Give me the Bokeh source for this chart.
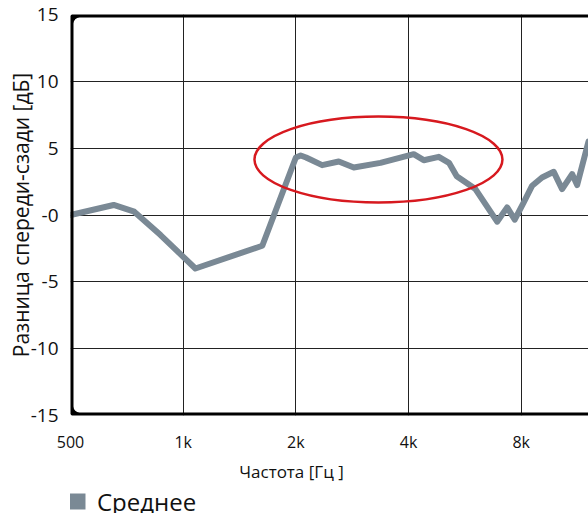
from bokeh.plotting import figure
from bokeh.layouts import column
from bokeh.models import (FixedTicker, Legend, LegendItem, BoxAnnotation, Range1d, Label)
from bokeh.embed import file_html
from bokeh.resources import INLINE

# ---- data ----
freq_hz = [500, 652, 740, 870, 1078, 1627, 2000, 2060, 2130, 2351, 2604, 2856,
           3364, 4129, 4392, 4817, 5130, 5380, 6036, 6898, 7336, 7687, 8124,
           8556, 9093, 9770, 10287, 10940, 11284, 12100]
diff_db = [0.0, 0.75, 0.25, -1.5, -4.0, -2.3, 4.3, 4.45, 4.3, 3.73, 4.0, 3.55,
           3.9, 4.55, 4.1, 4.35, 3.9, 2.9, 1.94, -0.5, 0.57, -0.35, 0.95,
           2.19, 2.81, 3.23, 1.94, 3.06, 2.24, 5.5]
series_name = "Среднее"

x_ticks = [500, 1000, 2000, 4000, 8000]
x_tick_labels = ["500", "1k", "2k", "4k", "8k"]
y_ticks = [-15, -10, -5, 0, 5, 10, 15]
y_tick_labels = ["-15", "-10", "-5", "-0", "5", "10", "15"]
x_title = "Частота [Гц ]"
y_title = "Разница спереди-сзади [дБ]"

# highlighted region (centre, in data units)
highlight_freq = [3324]
highlight_db = [4.15]

FONT = "Open Sans"
LINE = "#7a8995"
RED = "#d7191f"
TXT = "#111111"
W = 588

x_range = Range1d(500, 12100)

# ---------------- main chart ----------------
p = figure(width=W, height=455, x_axis_type="log",
           x_range=x_range, y_range=Range1d(-15, 15),
           output_backend="svg", toolbar_location=None,
           min_border_left=70, min_border_right=0, min_border_top=14,
           min_border_bottom=38)
p.outline_line_color = None
p.background_fill_color = "white"
p.border_fill_color = "white"

p.xgrid.ticker = FixedTicker(ticks=x_ticks[1:])
p.ygrid.ticker = FixedTicker(ticks=y_ticks)
for g in (p.xgrid, p.ygrid):
    g.grid_line_color = "#222222"
    g.grid_line_width = 1
    g.grid_line_alpha = 1

p.xaxis.ticker = FixedTicker(ticks=x_ticks)
p.xaxis.major_label_overrides = {t: l for t, l in zip(x_ticks, x_tick_labels)}
p.yaxis.ticker = FixedTicker(ticks=y_ticks)
p.yaxis.major_label_overrides = {t: l for t, l in zip(y_ticks, y_tick_labels)}
for ax in (p.xaxis, p.yaxis):
    ax.axis_line_color = None
    ax.major_tick_line_color = None
    ax.minor_tick_line_color = None
    ax.major_tick_out = 0
    ax.major_tick_in = 0
    ax.minor_tick_out = 0
    ax.minor_tick_in = 0
    ax.major_label_text_font = FONT
    ax.major_label_text_color = TXT
p.xaxis.major_label_text_font_size = "16px"
p.xaxis.major_label_standoff = 15
p.yaxis.major_label_text_font_size = "19px"
p.yaxis.major_label_standoff = 12
p.yaxis.axis_label = y_title
p.yaxis.axis_label_text_font = FONT
p.yaxis.axis_label_text_font_size = "21px"
p.yaxis.axis_label_text_font_style = "normal"
p.yaxis.axis_label_text_color = TXT
p.yaxis.axis_label_standoff = -7

# data line
p.line(freq_hz, diff_db, line_color=LINE, line_width=6,
       line_join="round", line_cap="round")

# highlight ellipse
p.ellipse(x=highlight_freq, y=highlight_db, width=248, height=86,
          width_units="screen", height_units="screen",
          fill_alpha=0, line_color=RED, line_width=2.5)

# rounded frame (half of the stroke lies inside the plot area)
frame = BoxAnnotation(left=500, right=30000, bottom=-15, top=15,
                      fill_alpha=0, line_color="black", line_width=6,
                      line_alpha=1, border_radius=9)
p.add_layout(frame)

# ---------------- strip below: axis title + legend ----------------
q = figure(width=W, height=58, x_axis_type="log", x_range=x_range,
           y_range=Range1d(0, 58),
           output_backend="svg", toolbar_location=None,
           x_axis_location=None, y_axis_location=None,
           min_border_left=70, min_border_right=0, min_border_top=0,
           min_border_bottom=0)
q.outline_line_color = None
q.background_fill_color = "white"
q.border_fill_color = "white"
q.grid.visible = False

q.add_layout(Label(x=1947, y=42, text=x_title, text_align="center",
                   text_baseline="alphabetic", text_font=FONT,
                   text_font_size="17px", text_color=TXT))

# the series again as zero-size square markers: supplies the square legend swatch
swatch_r = q.scatter(freq_hz, diff_db, marker="square", size=0,
                     fill_color=LINE, line_color=None)

legend = Legend(items=[LegendItem(label=series_name, renderers=[swatch_r])],
                location=(-13, -8), orientation="horizontal",
                glyph_width=40, glyph_height=40, label_height=40,
                label_standoff=0,
                label_text_font=FONT, label_text_font_size="24px",
                label_text_color=TXT,
                background_fill_alpha=0, border_line_color=None,
                padding=0, margin=0, spacing=0)
q.add_layout(legend, "center")

layout = column(p, q, spacing=0)
open("out.html", "w").write(file_html(layout, INLINE))
